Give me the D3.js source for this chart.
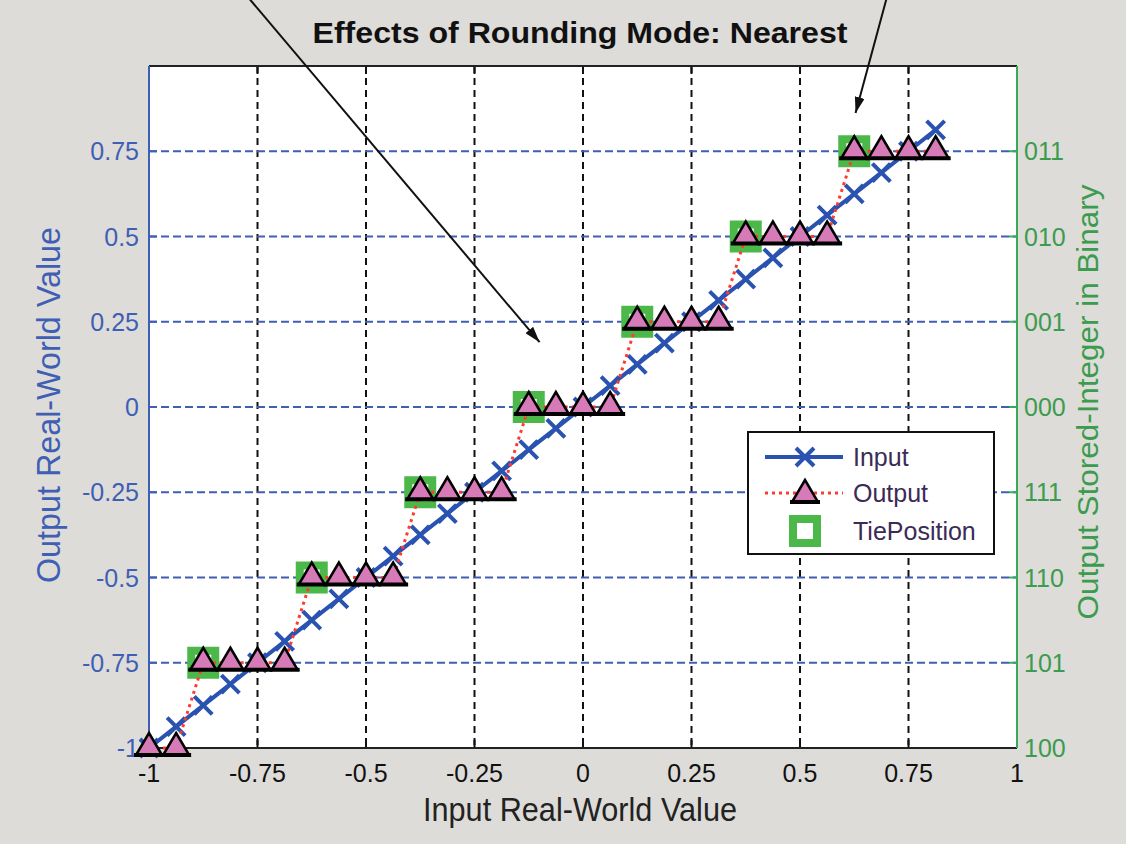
<!DOCTYPE html>
<html><head><meta charset="utf-8">
<script src="https://cdn.jsdelivr.net/npm/d3@7/dist/d3.min.js"></script>
<style>html,body{margin:0;padding:0;background:#dedcd8;}svg{display:block;font-family:"Liberation Sans",Arial,sans-serif;}</style>
</head><body><svg id="c" width="1126" height="844"></svg>
<script>
// ---- data ----
const inputValues = [-1,-0.9375,-0.875,-0.8125,-0.75,-0.6875,-0.625,-0.5625,-0.5,-0.4375,-0.375,-0.3125,-0.25,-0.1875,-0.125,-0.0625,0,0.0625,0.125,0.1875,0.25,0.3125,0.375,0.4375,0.5,0.5625,0.625,0.6875,0.75,0.8125];
const inputOut = [-1,-0.9375,-0.875,-0.8125,-0.75,-0.6875,-0.625,-0.5625,-0.5,-0.4375,-0.375,-0.3125,-0.25,-0.1875,-0.125,-0.0625,0,0.0625,0.125,0.1875,0.25,0.3125,0.375,0.4375,0.5,0.5625,0.625,0.6875,0.75,0.8125];
const outputValues = [-1,-1,-0.75,-0.75,-0.75,-0.75,-0.5,-0.5,-0.5,-0.5,-0.25,-0.25,-0.25,-0.25,0,0,0,0,0.25,0.25,0.25,0.25,0.5,0.5,0.5,0.5,0.75,0.75,0.75,0.75];
const tieX = [-0.875,-0.625,-0.375,-0.125,0.125,0.375,0.625];
const tieY = [-0.75,-0.5,-0.25,0,0.25,0.5,0.75];
const xTicks = [-1,-0.75,-0.5,-0.25,0,0.25,0.5,0.75,1];
const xTickLabels = ["-1","-0.75","-0.5","-0.25","0","0.25","0.5","0.75","1"];
const yTicks = [-1,-0.75,-0.5,-0.25,0,0.25,0.5,0.75];
const yTickLabels = ["-1","-0.75","-0.5","-0.25","0","0.25","0.5","0.75"];
const yRightLabels = ["100","101","110","111","000","001","010","011"];
const legendLabels = ["Input","Output","TiePosition"];
const arrowFrom = [[-0.768,1.196],[0.699,1.196]];
const arrowTo = [[-0.10,0.19],[0.628,0.862]];
const titleText = "Effects of Rounding Mode: Nearest";
const xLabelText = "Input Real-World Value";
const yLabelText = "Output Real-World Value";
const yRightLabelText = "Output Stored-Integer in Binary";

// ---- layout ----
const L=149, R=1017, T=66, B=748;
const x = d3.scaleLinear().domain([-1,1]).range([L,R]);
const y = d3.scaleLinear().domain([-1,1]).range([B,T]);
const svg = d3.select("#c");
const C = {bg:"#dedcd8", blueAx:"#3e5fb4", blueLine:"#2a52b0", green:"#3aaa5a", greenTxt:"#3b9b4e",
  red:"#ff3b30", pink:"#d67ab8", tieGreen:"#4cb84a"};

svg.append("rect").attr("width",1126).attr("height",844).attr("fill",C.bg);
svg.append("rect").attr("x",L).attr("y",T).attr("width",R-L).attr("height",B-T).attr("fill","#fff");

// grid
const g = svg.append("g");
g.selectAll(".vg").data(xTicks.slice(1,-1)).join("line")
  .attr("x1",d=>x(d)).attr("x2",d=>x(d)).attr("y1",T).attr("y2",B)
  .attr("stroke","#111").attr("stroke-width",2).attr("stroke-dasharray","7,5");
g.selectAll(".hg").data(yTicks.slice(1)).join("line")
  .attr("x1",L).attr("x2",R).attr("y1",d=>y(d)).attr("y2",d=>y(d))
  .attr("stroke",C.blueAx).attr("stroke-width",2).attr("stroke-dasharray","8,4");

// ticks
const tk=8;
g.selectAll(".tb").data(xTicks).join("line").attr("x1",d=>x(d)).attr("x2",d=>x(d)).attr("y1",B).attr("y2",B-tk).attr("stroke","#111").attr("stroke-width",2);
g.selectAll(".tt").data(xTicks).join("line").attr("x1",d=>x(d)).attr("x2",d=>x(d)).attr("y1",T).attr("y2",T+tk).attr("stroke","#111").attr("stroke-width",2);
g.selectAll(".tl").data(yTicks).join("line").attr("x1",L).attr("x2",L+tk).attr("y1",d=>y(d)).attr("y2",d=>y(d)).attr("stroke",C.blueAx).attr("stroke-width",2);
g.selectAll(".tr").data(yTicks).join("line").attr("x1",R).attr("x2",R-tk).attr("y1",d=>y(d)).attr("y2",d=>y(d)).attr("stroke",C.green).attr("stroke-width",2);

// box
svg.append("line").attr("x1",L).attr("x2",R).attr("y1",T).attr("y2",T).attr("stroke","#222").attr("stroke-width",2);
svg.append("line").attr("x1",L).attr("x2",R).attr("y1",B).attr("y2",B).attr("stroke","#222").attr("stroke-width",2);
svg.append("line").attr("x1",L).attr("x2",L).attr("y1",T).attr("y2",B).attr("stroke",C.blueAx).attr("stroke-width",2);
svg.append("line").attr("x1",R).attr("x2",R).attr("y1",T).attr("y2",B).attr("stroke",C.green).attr("stroke-width",2);

// tick labels
svg.selectAll(".xl").data(xTicks).join("text").attr("x",d=>x(d)).attr("y",782).attr("text-anchor","middle")
  .attr("font-size",25).attr("fill","#111").text((d,i)=>xTickLabels[i]);
svg.selectAll(".yl").data(yTicks).join("text").attr("x",139).attr("y",d=>y(d)+9).attr("text-anchor","end")
  .attr("font-size",25).attr("fill",C.blueAx).text((d,i)=>yTickLabels[i]);
svg.selectAll(".yr").data(yTicks).join("text").attr("x",1024).attr("y",d=>y(d)+9).attr("text-anchor","start")
  .attr("font-size",25).attr("fill",C.greenTxt).text((d,i)=>yRightLabels[i]);

// titles
svg.append("text").attr("x",580).attr("y",43).attr("text-anchor","middle").attr("font-weight","bold")
  .attr("font-size",30).attr("textLength",535).attr("lengthAdjust","spacingAndGlyphs").attr("fill","#111").text(titleText);
svg.append("text").attr("x",580).attr("y",821).attr("text-anchor","middle")
  .attr("font-size",33).attr("textLength",314).attr("lengthAdjust","spacingAndGlyphs").attr("fill","#222").text(xLabelText);
svg.append("text").attr("transform","translate(60,405) rotate(-90)").attr("text-anchor","middle")
  .attr("font-size",33).attr("textLength",356).attr("lengthAdjust","spacingAndGlyphs").attr("fill",C.blueAx).text(yLabelText);
svg.append("text").attr("transform","translate(1098,402) rotate(-90)").attr("text-anchor","middle")
  .attr("font-size",30).attr("textLength",435).attr("lengthAdjust","spacingAndGlyphs").attr("fill",C.greenTxt).text(yRightLabelText);

// marker helpers
function xMark(sel){ sel.append("path").attr("d","M-9,-9L9,9M-9,9L9,-9").attr("stroke",C.blueLine).attr("stroke-width",4).attr("fill","none"); }
function triMark(sel){
  sel.append("path").attr("d","M0,-15L13,7L-13,7Z").attr("fill",C.pink).attr("stroke","#000").attr("stroke-width",2.5).attr("stroke-linejoin","miter");
  sel.append("line").attr("x1",-15).attr("x2",15).attr("y1",7).attr("y2",7).attr("stroke","#000").attr("stroke-width",4);
}
function sqMark(sel){ sel.append("rect").attr("x",-12).attr("y",-12).attr("width",24).attr("height",24).attr("fill","#fff").attr("stroke",C.tieGreen).attr("stroke-width",8); }

const pts = inputValues.map((v,i)=>({x:v, yin:inputOut[i], yout:outputValues[i]}));
const ties = tieX.map((v,i)=>({x:v,y:tieY[i]}));

// tie squares
svg.selectAll(".sq").data(ties).join("g").attr("transform",d=>`translate(${x(d.x)},${y(d.y)})`).call(sqMark);

// input line
svg.append("path").datum(pts).attr("fill","none").attr("stroke",C.blueLine).attr("stroke-width",4)
  .attr("d",d3.line().x(d=>x(d.x)).y(d=>y(d.yin)));
svg.selectAll(".xm").data(pts).join("g").attr("transform",d=>`translate(${x(d.x)},${y(d.yin)})`).call(xMark);

// output line
svg.append("path").datum(pts).attr("fill","none").attr("stroke",C.red).attr("stroke-width",3).attr("stroke-dasharray","3,4")
  .attr("d",d3.line().x(d=>x(d.x)).y(d=>y(d.yout)));
svg.selectAll(".tm").data(pts).join("g").attr("transform",d=>`translate(${x(d.x)},${y(d.yout)})`).call(triMark);

// arrows
svg.append("defs").append("marker").attr("id","ah").attr("viewBox","0 0 16 10").attr("refX",16).attr("refY",5)
  .attr("markerWidth",16).attr("markerHeight",10).attr("markerUnits","userSpaceOnUse").attr("orient","auto")
  .append("path").attr("d","M0,0L16,5L0,10Z").attr("fill","#111");
arrowFrom.forEach((f,i)=>{
  svg.append("line").attr("x1",x(f[0])).attr("y1",y(f[1])).attr("x2",x(arrowTo[i][0])).attr("y2",y(arrowTo[i][1]))
    .attr("stroke","#111").attr("stroke-width",2).attr("marker-end","url(#ah)");
});

// legend
const lg = svg.append("g");
lg.append("rect").attr("x",748).attr("y",432).attr("width",246).attr("height",122).attr("fill","#fff").attr("stroke","#111").attr("stroke-width",2);
const rowY=[457,493,531];
lg.append("line").attr("x1",765).attr("x2",843).attr("y1",rowY[0]).attr("y2",rowY[0]).attr("stroke",C.blueLine).attr("stroke-width",4);
lg.append("g").attr("transform",`translate(805,${rowY[0]})`).call(xMark);
lg.append("line").attr("x1",765).attr("x2",843).attr("y1",rowY[1]).attr("y2",rowY[1]).attr("stroke",C.red).attr("stroke-width",3).attr("stroke-dasharray","3,4");
lg.append("g").attr("transform",`translate(805,${rowY[1]+2})`).call(triMark);
lg.append("g").attr("transform",`translate(805,${rowY[2]})`).call(sqMark);
lg.selectAll(".lt").data(legendLabels).join("text").attr("x",853).attr("y",(d,i)=>rowY[i]+9)
  .attr("font-size",25).attr("fill","#3b2b55").text(d=>d);
</script></body></html>
